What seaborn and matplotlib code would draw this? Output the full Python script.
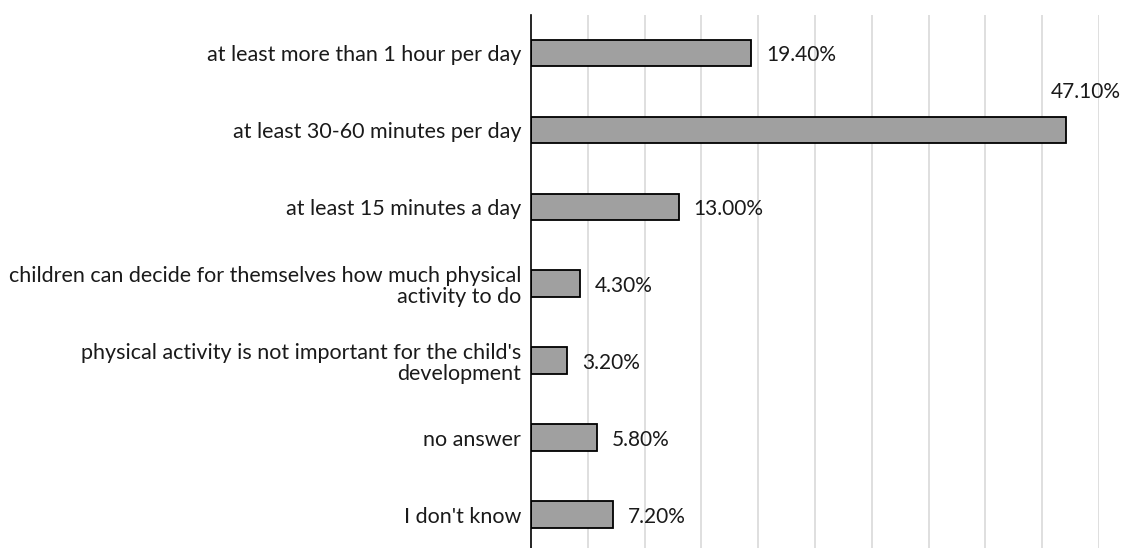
import matplotlib
matplotlib.use("Agg")
import matplotlib.pyplot as plt
import seaborn as sns
import pandas as pd

categories = [
    "at least more than 1 hour per day",
    "at least 30-60 minutes per day",
    "at least 15 minutes a day",
    "children can decide for themselves how much physical\nactivity to do",
    "physical activity is not important for the child's\ndevelopment",
    "no answer",
    "I don't know",
]
values = [19.4, 47.1, 13.0, 4.3, 3.2, 5.8, 7.2]
value_labels = ["19.40%", "47.10%", "13.00%", "4.30%", "3.20%", "5.80%", "7.20%"]

df = pd.DataFrame({"category": categories, "value": values})

sns.set_style("white")
plt.rcParams["font.family"] = ["Lato", "DejaVu Sans"]

fig = plt.figure(figsize=(11.26, 5.48), dpi=100)
ax = fig.add_axes([531 / 1126, 0.0, 568 / 1126, 533 / 548])

sns.barplot(data=df, y="category", x="value", orient="h", color="#a0a0a0",
            edgecolor="black", linewidth=1.3, width=0.35, saturation=1, ax=ax)

ax.set_xlim(0, 50)
ax.set_ylim(6.43, -0.494)
ax.set_xticks(range(5, 55, 5))
ax.xaxis.grid(True, color="#d9d9d9", linewidth=1.2)
ax.set_axisbelow(True)
ax.tick_params(axis="x", labelbottom=False, length=0)
ax.tick_params(axis="y", length=0, pad=7, labelsize=15.5, labelcolor="#1a1a1a")
for lbl in ax.get_yticklabels():
    lbl.set_horizontalalignment("right")
    lbl.set_multialignment("right")
    lbl.set_linespacing(1.05)
ax.set_xlabel("")
ax.set_ylabel("")
for side in ["top", "right", "bottom"]:
    ax.spines[side].set_visible(False)
ax.spines["left"].set_color("black")
ax.spines["left"].set_linewidth(1.2)

for i, (v, t) in enumerate(zip(values, value_labels)):
    if v > 40:
        ax.annotate(t, (v, i), xytext=(-15, 38), textcoords="offset pixels",
                    ha="left", va="center", fontsize=15, color="#1a1a1a")
    else:
        ax.annotate(t, (v, i), xytext=(15, -2), textcoords="offset pixels",
                    ha="left", va="center", fontsize=15, color="#1a1a1a")

fig.savefig("out.png", dpi=100)
